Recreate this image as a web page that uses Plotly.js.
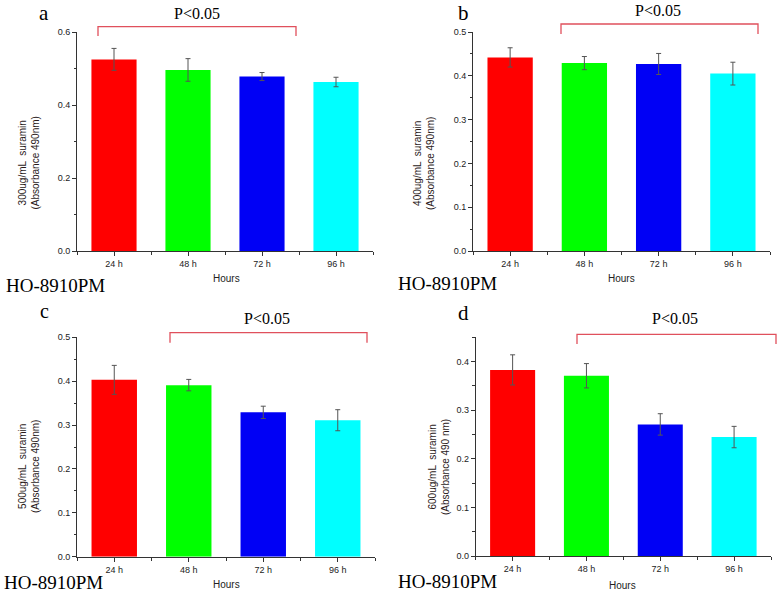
<!DOCTYPE html>
<html>
<head>
<meta charset="utf-8">
<script src="https://cdn.plot.ly/plotly-3.0.1.min.js"></script>
<style>html,body{margin:0;padding:0;background:#fff;}#chart{width:778px;height:594px;}</style>
</head>
<body>
<div id="chart"></div>
<script>
// ---- data ----
const categories = ['24 h', '48 h', '72 h', '96 h'];
const barColors = ['#ff0000', '#00ff00', '#0000f5', '#00ffff'];
const valuesA = [0.525, 0.496, 0.478, 0.463];
const errorsA = [0.030, 0.031, 0.011, 0.013];
const valuesB = [0.442, 0.429, 0.427, 0.405];
const errorsB = [0.022, 0.015, 0.024, 0.026];
const valuesC = [0.403, 0.391, 0.329, 0.311];
const errorsC = [0.033, 0.013, 0.014, 0.024];
const valuesD = [0.383, 0.371, 0.271, 0.245];
const errorsD = [0.031, 0.025, 0.022, 0.022];
const yTitles = [
  '300ug/mL  suramin<br>(Absorbance 490nm)',
  '400ug/mL  suramin<br>(Absorbance 490nm)',
  '500ug/mL  suramin<br>(Absorbance 490nm)',
  '600ug/mL  suramin<br>(Absorbance 490 nm)'
];
const panelLetters = ['a', 'b', 'c', 'd'];
const xTitle = 'Hours';
const cellLine = 'HO-8910PM';
const sigLabel = 'P<0.05';

// ---- layout helpers (pixel -> paper) ----
const W = 778, H = 594;
const px = x => x / W;
const py = y => 1 - y / H;

// letter: [x, y, yanchor]; ho: [x, y, yanchor]
const panels = [
  {vals: valuesA, errs: errorsA, x0: 77, x1: 373, y0: 32, y1: 251, yr: [0, 0.6], dt: 0.2, mdt: 0.1,
   letter: [44, 0, 'top'], sig: [197, 13.5], br: [98, 296, 26.7, 36], ho: [5, 285.5, 'middle'], hours: [226, 278.5], yt: [28.5, 163]},
  {vals: valuesB, errs: errorsB, x0: 473, x1: 770, y0: 32, y1: 251, yr: [0, 0.5], dt: 0.1, mdt: 0.05,
   letter: [463, 0, 'top'], sig: [658, 10.5], br: [561, 758, 24, 34], ho: [397, 283.6, 'middle'], hours: [621, 278.5], yt: [424, 163]},
  {vals: valuesC, errs: errorsC, x0: 77, x1: 375, y0: 337.3, y1: 556.7, yr: [0, 0.5], dt: 0.1, mdt: 0.05,
   letter: [44, 298.5, 'top'], sig: [267, 318], br: [170, 367, 332.7, 342.7], ho: [3, 594, 'bottom'], hours: [226, 584.5], yt: [29, 467]},
  {vals: valuesD, errs: errorsD, x0: 475.7, x1: 771, y0: 337.3, y1: 556.3, yr: [0, 0.45], dt: 0.1, mdt: 0.05,
   letter: [463, 313, 'middle'], sig: [675, 318], br: [577, 776, 334.3, 344], ho: [397, 581.6, 'middle'], hours: [622, 585], yt: [439, 467]}
];

const tickFont = {family: 'Liberation Sans, Arial, sans-serif', size: 9, color: '#222'};
const axisColor = '#333';
const traces = [];
const layout = {
  width: W, height: H,
  margin: {l: 0, r: 0, t: 0, b: 0},
  paper_bgcolor: '#fff', plot_bgcolor: '#fff',
  showlegend: false,
  annotations: [], shapes: []
};

panels.forEach((p, i) => {
  const n = i === 0 ? '' : String(i + 1);
  traces.push({
    type: 'bar',
    x: categories.map((_, k) => k),
    y: p.vals,
    width: 0.61,
    marker: {color: barColors, line: {width: 0}},
    error_y: {type: 'data', array: p.errs, visible: true, color: '#555', thickness: 1, width: 2.5},
    xaxis: 'x' + n, yaxis: 'y' + n,
    hoverinfo: 'x+y'
  });
  layout['xaxis' + n] = {
    domain: [px(p.x0), px(p.x1)], anchor: 'y' + n,
    range: [-0.5, 3.5], tickmode: 'array', tickvals: categories.map((_, k) => k), ticktext: categories,
    ticks: 'outside', ticklen: 4, tickwidth: 1, tickcolor: axisColor,
    minor: {tick0: 0.5, dtick: 1, ticks: 'outside', ticklen: 3, tickwidth: 1, tickcolor: axisColor, showgrid: false},
    showline: true, linecolor: axisColor, linewidth: 1,
    showgrid: false, zeroline: false, tickfont: tickFont, fixedrange: true
  };
  layout['yaxis' + n] = {
    domain: [py(p.y1), py(p.y0)], anchor: 'x' + n,
    range: p.yr, dtick: p.dt, tick0: 0, tickformat: '.1f',
    ticks: 'outside', ticklen: 4, tickwidth: 1, tickcolor: axisColor,
    minor: {dtick: p.mdt, ticks: 'outside', ticklen: 2.5, tickwidth: 1, tickcolor: axisColor, showgrid: false},
    showline: true, linecolor: axisColor, linewidth: 1,
    showgrid: false, zeroline: false, tickfont: tickFont, fixedrange: true
  };
  // significance bracket
  layout.shapes.push({
    type: 'path', xref: 'paper', yref: 'paper',
    path: `M${px(p.br[0])},${py(p.br[3])} L${px(p.br[0])},${py(p.br[2])} L${px(p.br[1])},${py(p.br[2])} L${px(p.br[1])},${py(p.br[3])}`,
    line: {color: '#e0505c', width: 1.3}
  });
  const serif = 'Liberation Serif, Times New Roman, serif';
  layout.annotations.push(
    {text: panelLetters[i], xref: 'paper', yref: 'paper', x: px(p.letter[0]), y: py(p.letter[1]),
     xanchor: 'center', yanchor: p.letter[2], borderpad: 0, showarrow: false, font: {family: serif, size: i === 2 ? 20 : 21, color: '#000'}},
    {text: sigLabel, xref: 'paper', yref: 'paper', x: px(p.sig[0]), y: py(p.sig[1]),
     xanchor: 'center', yanchor: 'middle', borderpad: 0, showarrow: false, font: {family: serif, size: 16, color: '#000'}},
    {text: cellLine, xref: 'paper', yref: 'paper', x: px(p.ho[0]), y: py(p.ho[1]),
     xanchor: 'left', yanchor: p.ho[2], borderpad: 0, showarrow: false, font: {family: serif, size: 19, color: '#000'}},
    {text: xTitle, xref: 'paper', yref: 'paper', x: px(p.hours[0]), y: py(p.hours[1]),
     xanchor: 'center', yanchor: 'middle', showarrow: false, font: {family: 'Liberation Sans, Arial, sans-serif', size: 10, color: '#222'}},
    {text: yTitles[i], xref: 'paper', yref: 'paper', x: px(p.yt[0]), y: py(p.yt[1]), textangle: -90,
     xanchor: 'center', yanchor: 'middle', showarrow: false,
     font: {family: 'Liberation Sans, Arial, sans-serif', size: 10, color: '#2a1a1a'}}
  );
});

Plotly.newPlot('chart', traces, layout, {staticPlot: true, displayModeBar: false});
</script>
</body>
</html>
